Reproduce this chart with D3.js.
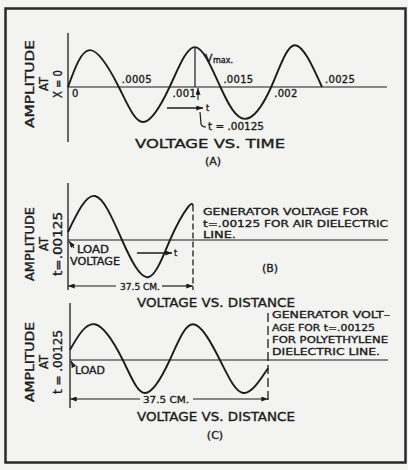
<!DOCTYPE html>
<html>
<head>
<meta charset="utf-8">
<script src="https://cdn.jsdelivr.net/npm/d3@7"></script>
<style>
  body { margin: 0; background: #f3f3f1; }
  svg { display: block; }
  text { font-family: "DejaVu Sans", sans-serif; fill: #1c1c1c; stroke: #1c1c1c; stroke-width: 0.35; }
</style>
</head>
<body>
<svg id="chart" width="408" height="470"></svg>
<script>
// (A) voltage at x = 0 against time (seconds), amplitude relative to Vmax
const timeA = [0, 0.000217, 0.0005, 0.000738, 0.001, 0.00125, 0.0015, 0.00174, 0.002, 0.00223, 0.0025];
const voltA = [0, 0.97, 0, -0.92, 0, 1.05, 0, -0.84, 0, 1.1, 0];
const timeTicks = [0, 0.0005, 0.001, 0.0015, 0.002, 0.0025];
const timeTickLabels = ["0", ".0005", ".001", ".0015", ".002", ".0025"];

// (B) air dielectric line, distance from load in cm
const distB = [0, 8.1, 16.2, 24, 30.6, 36, 37.5];
const voltB = [0.2, 1.1, 0, -0.93, 0, 0.82, 0.86];

// (C) polyethylene dielectric line
const distC = [0, 4.7, 10, 14.2, 18.9, 23.3, 28.4, 32.8, 37.5];
const voltC = [0.3, 1.05, 0, -0.97, 0, 1.05, 0, -0.97, -0.24];

const lineLength = 37.5;
const ink = "#1c1c1c";

const svg = d3.select("#chart");

const defs = svg.append("defs");
defs.append("marker")
  .attr("id", "arr")
  .attr("viewBox", "0 0 8 6")
  .attr("refX", 8).attr("refY", 3)
  .attr("markerWidth", 7).attr("markerHeight", 5)
  .attr("markerUnits", "userSpaceOnUse")
  .attr("orient", "auto-start-reverse")
  .append("path").attr("d", "M0,0L8,3L0,6Z").attr("fill", ink);

// frame
svg.append("rect")
  .attr("x", 5.5).attr("y", 8.5).attr("width", 400).attr("height", 454)
  .attr("fill", "none").attr("stroke", "#2a2a2a").attr("stroke-width", 2.5);

function label(g, str, x, y, size, opts = {}) {
  const t = g.append("text")
    .attr("x", x).attr("y", y)
    .attr("font-size", size)
    .attr("text-anchor", opts.anchor || "start")
    .text(str);
  if (opts.len) t.attr("textLength", opts.len).attr("lengthAdjust", "spacingAndGlyphs");
  if (opts.spacing) t.attr("letter-spacing", opts.spacing);
  return t;
}

function yTitle(g, lines, xs, cy, lens) {
  lines.forEach((s, i) => {
    g.append("text")
      .attr("transform", `translate(${xs[i]},${cy}) rotate(-90)`)
      .attr("text-anchor", "middle")
      .attr("font-size", 11.5)
      .attr("textLength", lens[i]).attr("lengthAdjust", "spacingAndGlyphs")
      .text(s);
  });
}

function wave(g, xs, ys, x, y) {
  const pts = xs.map((d, i) => [x(d), y(ys[i])]);
  g.append("path")
    .attr("d", d3.line().curve(d3.curveNatural)(pts))
    .attr("fill", "none").attr("stroke", ink).attr("stroke-width", 1.9);
}

function rule(g, x1, y1, x2, y2, w = 1.2, dash = null) {
  const l = g.append("line")
    .attr("x1", x1).attr("y1", y1).attr("x2", x2).attr("y2", y2)
    .attr("stroke", ink).attr("stroke-width", w);
  if (dash) l.attr("stroke-dasharray", dash);
  return l;
}

function arrow(g, x1, y1, x2, y2, w = 1.2) {
  return rule(g, x1, y1, x2, y2, w).attr("marker-end", "url(#arr)");
}

// ---------- (A) ----------
{
  const g = svg.append("g");
  const x = d3.scaleLinear([0, 0.0025], [68, 322]);
  const y = d3.scaleLinear([-1, 1], [125, 49]);

  rule(g, 68, 33, 68, 142, 1.3);
  rule(g, 68, y(0), 387, y(0), 1.2);
  wave(g, timeA, voltA, x, y);

  // Vmax marker at t = .00125
  rule(g, x(0.00125), y(voltA[5]), x(0.00125), y(0), 1.2);
  label(g, "V", 205, 62, 11);
  label(g, "max.", 213, 63, 8);

  timeTicks.forEach((t, i) => {
    const below = i % 2 === 0;
    label(g, timeTickLabels[i], x(t) + (i === 0 ? 4 : 3), below ? y(0) + 10 : y(0) - 4, 10, { spacing: 0.3 });
  });

  arrow(g, 198, 100, 198, y(0) + 1, 1.1);
  arrow(g, 167, 108, 203, 108, 1.3);
  label(g, "t", 206, 111, 8);
  g.append("path")
    .attr("d", "M200,112L201,124Q202,127,206,127")
    .attr("fill", "none").attr("stroke", ink).attr("stroke-width", 1.2);
  label(g, "t = .00125", 208, 130, 10, { len: 56 });

  yTitle(g, ["AMPLITUDE", "AT", "X = 0"], [34, 48, 62], 84, [88, 14, 28]);
  label(g, "VOLTAGE  VS. TIME", 210, 148, 12, { anchor: "middle", len: 150 });
  label(g, "(A)", 213, 165, 11, { anchor: "middle" });
}

// ---------- (B) ----------
{
  const g = svg.append("g");
  const x = d3.scaleLinear([0, lineLength], [68, 193]);
  const y = d3.scaleLinear([-1, 1], [280, 200]);

  rule(g, 68, 183, 68, 290, 1.3);
  rule(g, 68, y(0), 388, y(0), 1.2);
  wave(g, distB, voltB, x, y);
  rule(g, x(lineLength), y(voltB[voltB.length - 1]), x(lineLength), 290, 1.3, "6,3");

  label(g, "GENERATOR VOLTAGE FOR", 203, 215, 9.5, { len: 165 });
  label(g, "t=.00125  FOR AIR DIELECTRIC", 203, 227, 9.5, { len: 185 });
  label(g, "LINE.", 203, 238, 9.5, { len: 33 });

  arrow(g, 74, 248, 69, y(0) + 1, 1.2);
  label(g, "LOAD", 77, 253, 10, { len: 32 });
  label(g, "VOLTAGE", 70, 265, 10, { len: 50 });
  arrow(g, 137, 253, 172, 253, 1.3);
  label(g, "t", 174, 256, 8);
  label(g, "(B)", 270, 272, 11, { anchor: "middle" });

  arrow(g, 116, 286, 68, 286, 1.2);
  arrow(g, 162, 286, x(lineLength), 286, 1.2);
  label(g, "37.5 CM.", 140, 290, 9.5, { anchor: "middle", len: 40 });

  yTitle(g, ["AMPLITUDE", "AT", "t=.00125"], [34, 48, 62], 244, [74, 14, 64]);
  label(g, "VOLTAGE VS.  DISTANCE", 216, 307, 12, { anchor: "middle", len: 158 });
}

// ---------- (C) ----------
{
  const g = svg.append("g");
  const x = d3.scaleLinear([0, lineLength], [70, 268]);
  const y = d3.scaleLinear([-1, 1], [394, 326]);

  rule(g, 70, 303, 70, 408, 1.3);
  rule(g, 70, y(0), 388, y(0), 1.2);
  wave(g, distC, voltC, x, y);
  rule(g, x(lineLength), 313, x(lineLength), 400, 1.3, "9,4");

  label(g, "GENERATOR VOLT\u2013", 272, 318, 9.5, { len: 118 });
  label(g, "AGE FOR t=.00125", 272, 331, 9.5, { len: 103 });
  label(g, "FOR POLYETHYLENE", 272, 343, 9.5, { len: 116 });
  label(g, "DIELECTRIC LINE.", 272, 355, 9.5, { len: 108 });

  arrow(g, 74, 367, 71, y(0) + 1, 1.4);
  label(g, "LOAD", 75, 374, 10, { len: 30 });

  arrow(g, 140, 399, 70, 399, 1.2);
  arrow(g, 193, 399, x(lineLength), 399, 1.2);
  label(g, "37.5 CM.", 166, 403, 9.5, { anchor: "middle", len: 46 });

  yTitle(g, ["AMPLITUDE", "AT", "t = .00125"], [34, 48, 62], 362, [80, 14, 64]);
  label(g, "VOLTAGE VS. DISTANCE", 216, 421, 12, { anchor: "middle", len: 158 });
  label(g, "(C)", 215, 439, 11, { anchor: "middle" });
}
</script>
</body>
</html>
